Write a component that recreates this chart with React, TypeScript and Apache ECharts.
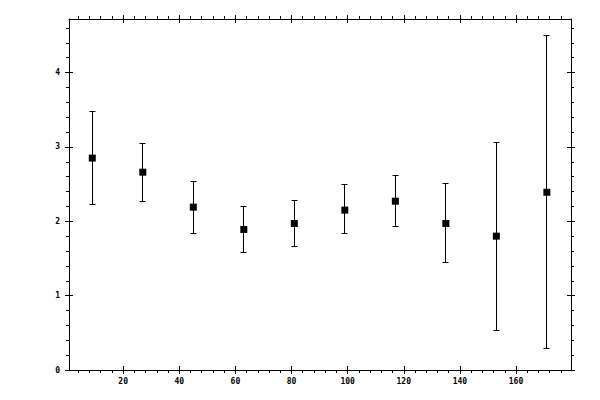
import React, { useEffect, useRef } from 'react';
import * as echarts from 'echarts';

// bin centres and measured values
const xs    = [9, 27, 45, 63, 81, 99, 117, 135, 153, 171];
const means = [2.85, 2.66, 2.19, 1.89, 1.97, 2.15, 2.27, 1.97, 1.80, 2.39];
const lows  = [2.22, 2.27, 1.84, 1.58, 1.66, 1.83, 1.93, 1.44, 0.53, 0.29];
const highs = [3.48, 3.05, 2.54, 2.20, 2.28, 2.49, 2.62, 2.51, 3.06, 4.50];

// tick positions
const xMajor = [20, 40, 60, 80, 100, 120, 140, 160];
const xMinor = [4, 8, 12, 16, 24, 28, 32, 36, 44, 48, 52, 56, 64, 68, 72, 76, 84, 88, 92, 96,
  104, 108, 112, 116, 124, 128, 132, 136, 144, 148, 152, 156, 164, 168, 172, 176];
const yMajor = [0, 1, 2, 3, 4];
const yMinor = [0.2, 0.4, 0.6, 0.8, 1.2, 1.4, 1.6, 1.8, 2.2, 2.4, 2.6, 2.8, 3.2, 3.4, 3.6, 3.8,
  4.2, 4.4, 4.6];

const X_MIN = 0.7;
const X_MAX = 179.6;
const Y_MIN = 0;
const Y_MAX = 4.72;

const ink = '#000';
const labelFont = {
  fontFamily: '"DejaVu Sans Mono", monospace', fontSize: 8, fontWeight: 'bold' as const, color: ink,
};

function axisSet(kind: 'x' | 'y', pos: string, main: boolean) {
  const isX = kind === 'x';
  const min = isX ? X_MIN : Y_MIN;
  const max = isX ? X_MAX : Y_MAX;
  const major = isX ? xMajor : yMajor;
  const minor = isX ? xMinor : yMinor;
  const base = { type: 'value', position: pos, min, max, splitLine: { show: false } };
  return [
    {
      ...base,
      axisLine: { show: true, onZero: false, lineStyle: { color: ink, width: 1 } },
      axisTick: { show: true, inside: false, length: 4, customValues: major, lineStyle: { color: ink, width: 1 } },
      axisLabel: main
        ? { show: true, customValues: major, margin: isX ? 7 : 9, ...labelFont }
        : { show: false },
    },
    {
      ...base,
      axisLine: { show: false, onZero: false },
      axisTick: { show: true, inside: true, length: 4, customValues: major, lineStyle: { color: ink, width: 1 } },
      axisLabel: { show: false },
    },
    {
      ...base,
      axisLine: { show: false, onZero: false },
      axisTick: { show: true, inside: false, length: 3, customValues: minor, lineStyle: { color: ink, width: 1 } },
      axisLabel: { show: false },
    },
  ];
}

// snap to pixel centre so 1px strokes stay crisp
const px = (v: number) => Math.round(v - 0.5) + 0.5;

export default function App() {
  const ref = useRef<HTMLDivElement>(null);

  useEffect(() => {
    if (!ref.current) return;
    const chart = echarts.init(ref.current, null, { renderer: 'svg' });

    const barData = xs.map((x, i) => [x, lows[i], highs[i]]);
    const pointData = xs.map((x, i) => [x, means[i]]);

    chart.setOption({
      animation: false,
      backgroundColor: '#fff',
      grid: { left: 69, right: 29, top: 19, bottom: 30 },
      xAxis: [...axisSet('x', 'bottom', true), ...axisSet('x', 'top', false)],
      yAxis: [...axisSet('y', 'left', true), ...axisSet('y', 'right', false)],
      series: [
        {
          type: 'custom',
          xAxisIndex: 0,
          yAxisIndex: 0,
          data: barData,
          renderItem: (params: any, api: any) => {
            const top = api.coord([api.value(0), api.value(2)]);
            const bot = api.coord([api.value(0), api.value(1)]);
            const cx = px(top[0]);
            const y1 = px(top[1]);
            const y2 = px(bot[1]);
            const hw = 3;
            const style = { stroke: ink, lineWidth: 1 };
            return {
              type: 'group',
              children: [
                { type: 'line', shape: { x1: cx, y1, x2: cx, y2 }, style },
                { type: 'line', shape: { x1: cx - hw, y1, x2: cx + hw, y2: y1 }, style },
                { type: 'line', shape: { x1: cx - hw, y1: y2, x2: cx + hw, y2 }, style },
              ],
            };
          },
        },
        {
          type: 'scatter',
          xAxisIndex: 0,
          yAxisIndex: 0,
          symbol: 'rect',
          symbolSize: 7,
          itemStyle: { color: ink, opacity: 1 },
          data: pointData,
        },
      ],
    });

    return () => chart.dispose();
  }, []);

  return <div ref={ref} style={{ position: 'fixed', left: 0, top: 0, width: 600, height: 400 }} />;
}
